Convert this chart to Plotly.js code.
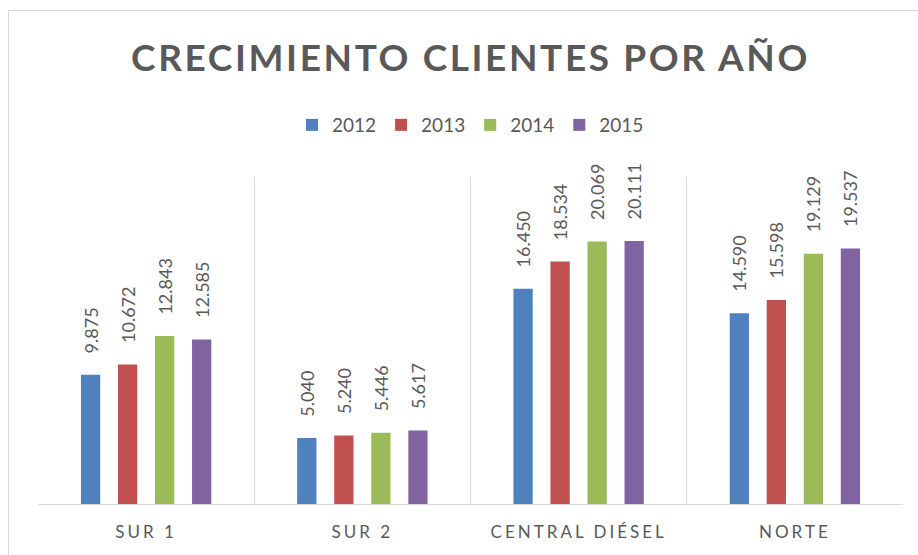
<!DOCTYPE html>
<html>
<head>
<meta charset="utf-8">
<script src="https://cdn.plot.ly/plotly-3.0.1.min.js"></script>
<style>
  html, body { margin: 0; padding: 0; background: #ffffff; }
  #wrap { position: relative; width: 918px; height: 555px; overflow: hidden; }
  #chart { position: absolute; left: 0; top: 0; width: 918px; height: 555px; }
  #frame { position: absolute; left: 8px; top: 10px; width: 930px; height: 560px; border: 1px solid #d9d9d9; pointer-events: none; }
  .gtitle { letter-spacing: 2.6px; }
  .xtick text { letter-spacing: 3px; }
</style>
</head>
<body>
<div id="wrap">
  <div id="frame"></div>
  <div id="chart"></div>
</div>
<script>
const categories = ["SUR 1", "SUR 2", "CENTRAL DIÉSEL", "NORTE"];
const seriesNames = ["2012", "2013", "2014", "2015"];
const values2012 = [9875, 5040, 16450, 14590];
const values2013 = [10672, 5240, 18534, 15598];
const values2014 = [12843, 5446, 20069, 19129];
const values2015 = [12585, 5617, 20111, 19537];
const seriesValues = [values2012, values2013, values2014, values2015];
const colors = ["#4F81BD", "#C0504D", "#9BBB59", "#8064A2"];

const fontFamily = "Lato, 'Open Sans', sans-serif";
const gray = "#595959";

const traces = seriesNames.map((name, i) => ({
  type: "bar",
  name: name,
  x: categories,
  y: seriesValues[i],
  marker: { color: colors[i], line: { width: 0 } },
  texttemplate: "\u00A0\u00A0\u00A0\u00A0%{y:,.0f}",
  textposition: "outside",
  textangle: -90,
  constraintext: "none",
  cliponaxis: false,
  textfont: { family: fontFamily, size: 18, color: gray },
  hoverinfo: "x+y+name"
}));

const layout = {
  width: 918,
  height: 555,
  margin: { l: 38, r: 15, t: 177, b: 51, pad: 0 },
  paper_bgcolor: "rgba(0,0,0,0)",
  plot_bgcolor: "rgba(0,0,0,0)",
  separators: ",.",
  barmode: "group",
  bargap: 0.315,
  bargroupgap: 0.48,
  font: { family: fontFamily, color: gray },
  title: {
    text: "CRECIMIENTO CLIENTES POR AÑO",
    font: { family: fontFamily, size: 37, weight: "bold", color: gray },
    x: 0.5, xref: "paper", xanchor: "center",
    y: 0.8946, yref: "container", yanchor: "middle"
  },
  legend: {
    orientation: "h",
    x: 0.5, xanchor: "center",
    y: 1.159, yanchor: "middle",
    font: { family: fontFamily, size: 19, color: gray },
    traceorder: "normal",
    bgcolor: "rgba(0,0,0,0)"
  },
  xaxis: {
    type: "category",
    tickson: "boundaries",
    showgrid: true,
    gridcolor: "#d9d9d9",
    gridwidth: 1,
    showline: true,
    linecolor: "#d9d9d9",
    linewidth: 1,
    ticks: "",
    ticklabelstandoff: 13,
    tickfont: { family: fontFamily, size: 17, color: gray },
    fixedrange: true
  },
  yaxis: {
    range: [0, 25000],
    showgrid: false,
    zeroline: false,
    showline: false,
    showticklabels: false,
    ticks: "",
    fixedrange: true
  },
  showlegend: true
};

Plotly.newPlot("chart", traces, layout, { displayModeBar: false, staticPlot: true });
</script>
</body>
</html>
